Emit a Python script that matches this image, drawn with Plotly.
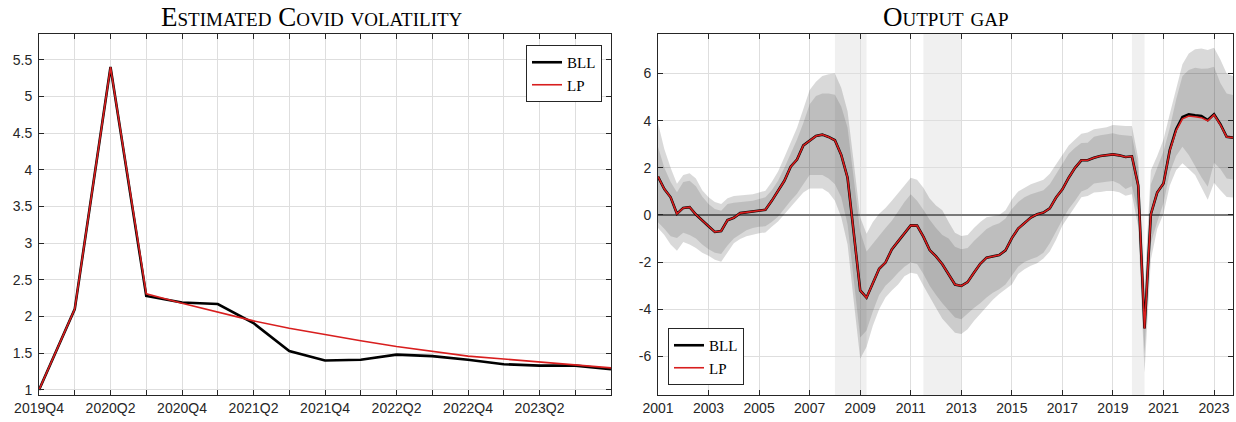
import plotly.graph_objects as go
import pandas as pd

# ---------------- Left panel: estimated Covid volatility ----------------
vol_quarters = ["2019Q4", "2020Q1", "2020Q2", "2020Q3", "2020Q4", "2021Q1", "2021Q2",
                "2021Q3", "2021Q4", "2022Q1", "2022Q2", "2022Q3", "2022Q4", "2023Q1",
                "2023Q2", "2023Q3", "2023Q4"]
vol_bll = [1.00, 2.10, 5.40, 2.28, 2.19, 2.17, 1.91, 1.53, 1.40, 1.41, 1.48, 1.46,
           1.41, 1.35, 1.33, 1.33, 1.28]
vol_lp = [1.00, 2.10, 5.40, 2.31, 2.18, 2.06, 1.94, 1.84, 1.75, 1.67, 1.59, 1.52,
          1.46, 1.42, 1.38, 1.34, 1.30]
vol_ticklabels = ["2019Q4", "", "2020Q2", "", "2020Q4", "", "2021Q2", "", "2021Q4", "",
                  "2022Q2", "", "2022Q4", "", "2023Q2", "", ""]

# ---------------- Right panel: output gap (2001Q1 - 2023Q4) ----------------
gap_bll = [1.63, 1.10, 0.75, 0.05,
           0.30, 0.33, 0.02, -0.25,
           -0.48, -0.72, -0.68, -0.22,
           -0.12, 0.08, 0.12, 0.17,
           0.20, 0.22, 0.60, 1.05,
           1.45, 2.05, 2.35, 2.95,
           3.17, 3.35, 3.41, 3.31,
           3.17, 2.55, 1.58, -0.85,
           -3.20, -3.51, -2.90, -2.28,
           -2.02, -1.46, -1.12, -0.78,
           -0.44, -0.45, -0.92, -1.49,
           -1.76, -2.09, -2.52, -2.95,
           -3.01, -2.85, -2.45, -2.07,
           -1.81, -1.74, -1.70, -1.50,
           -0.98, -0.58, -0.33, -0.11,
           0.03, 0.10, 0.28, 0.74,
           1.09, 1.58, 2.00, 2.32,
           2.32, 2.43, 2.50, 2.55,
           2.57, 2.53, 2.46, 2.49,
           1.25, -4.82, 0.03, 0.95,
           1.34, 2.76, 3.64, 4.16,
           4.27, 4.23, 4.20, 4.03,
           4.27, 3.85, 3.32, 3.28]
gap_lp = [1.63, 1.10, 0.75, 0.05,
          0.30, 0.33, 0.02, -0.25,
          -0.48, -0.72, -0.68, -0.22,
          -0.12, 0.08, 0.12, 0.17,
          0.20, 0.22, 0.60, 1.05,
          1.45, 2.05, 2.35, 2.95,
          3.17, 3.35, 3.41, 3.31,
          3.17, 2.55, 1.58, -0.85,
          -3.20, -3.51, -2.90, -2.28,
          -2.02, -1.46, -1.12, -0.78,
          -0.44, -0.45, -0.92, -1.49,
          -1.76, -2.09, -2.52, -2.95,
          -3.01, -2.85, -2.45, -2.07,
          -1.81, -1.74, -1.70, -1.50,
          -0.98, -0.58, -0.33, -0.11,
          0.03, 0.10, 0.28, 0.74,
          1.09, 1.58, 2.00, 2.32,
          2.32, 2.43, 2.50, 2.55,
          2.57, 2.53, 2.46, 2.49,
          1.25, -4.82, 0.03, 0.95,
          1.34, 2.74, 3.58, 4.08,
          4.20, 4.17, 4.13, 4.00,
          4.25, 3.83, 3.31, 3.28]
gap_u90 = [3.90, 2.80, 2.00, 1.32,
           1.70, 1.77, 1.55, 1.05,
           0.75, 0.55, 0.47, 0.71,
           0.80, 0.82, 0.85, 0.88,
           0.95, 1.03, 1.40, 1.85,
           2.45, 3.10, 3.70, 4.50,
           5.30, 5.65, 5.90, 5.97,
           6.00, 5.40, 4.40, 2.20,
           -0.10, -0.80, -0.30, 0.05,
           0.30, 0.60, 0.95, 1.25,
           1.58, 1.50, 1.15, 0.70,
           0.40, 0.20, -0.30, -0.75,
           -0.89, -0.85, -0.55, -0.30,
           -0.10, -0.05, 0.00, 0.20,
           0.66, 1.00, 1.15, 1.30,
           1.40, 1.50, 1.75, 2.15,
           2.60, 2.95, 3.20, 3.45,
           3.50, 3.64, 3.68, 3.72,
           3.82, 3.79, 3.78, 3.78,
           2.40, -3.00, 1.90, 2.50,
           3.20, 4.30, 5.40, 6.40,
           6.85, 7.03, 7.06, 7.00,
           7.10, 6.60, 6.00, 5.90]
gap_u68 = [2.90, 2.00, 1.40, 0.96,
           1.40, 1.45, 1.22, 0.78,
           0.47, 0.25, 0.18, 0.47,
           0.52, 0.54, 0.58, 0.60,
           0.68, 0.75, 1.05, 1.45,
           2.00, 2.60, 3.20, 3.90,
           4.70, 5.05, 5.15, 5.15,
           5.10, 4.60, 3.70, 1.50,
           -0.70, -1.55, -1.20, -0.85,
           -0.55, -0.25, 0.15, 0.55,
           0.88, 0.60, 0.22, -0.20,
           -0.55, -0.85, -1.00, -1.35,
           -1.46, -1.40, -1.10, -0.85,
           -0.60, -0.45, -0.35, -0.15,
           0.25, 0.55, 0.75, 0.88,
           0.97, 1.05, 1.30, 1.75,
           2.20, 2.60, 2.85, 3.05,
           3.07, 3.32, 3.38, 3.43,
           3.47, 3.40, 3.36, 3.35,
           2.00, -3.60, 1.30, 2.00,
           2.70, 3.70, 4.90, 5.90,
           6.15, 6.25, 6.20, 6.22,
           6.29, 5.60, 5.15, 5.09]
gap_l68 = [-0.31, -0.58, -0.90, -0.98,
           -0.75, -0.85, -1.00, -1.25,
           -1.45, -1.60, -1.66, -1.30,
           -1.00, -0.81, -0.65, -0.55,
           -0.50, -0.48, -0.30, -0.08,
           0.25, 0.60, 0.90, 1.30,
           1.70, 1.70, 1.70, 1.55,
           1.30, 0.75, -0.40, -2.90,
           -5.20, -4.90, -4.10, -3.40,
           -3.00, -2.75, -2.45, -2.20,
           -2.02, -2.08, -2.50, -3.00,
           -3.40, -3.75, -4.05, -4.35,
           -4.43, -4.20, -3.95, -3.75,
           -3.50, -3.30, -3.15, -2.95,
           -2.55, -2.20, -2.00, -1.88,
           -1.78, -1.60, -1.20, -0.70,
           -0.20, 0.25, 0.60, 1.00,
           1.10, 1.34, 1.37, 1.41,
           1.44, 1.32, 1.10, 1.22,
           0.10, -5.90, -1.20, -0.30,
           0.50, 1.80, 2.50, 2.90,
           2.55, 2.10, 1.60, 1.20,
           2.22, 1.95, 1.55, 1.51]
gap_l90 = [-0.55, -0.85, -1.25, -1.52,
           -1.15, -1.25, -1.40, -1.60,
           -1.73, -1.90, -1.99, -1.59,
           -1.20, -1.02, -0.90, -0.83,
           -0.78, -0.74, -0.50, -0.28,
           0.05, 0.35, 0.65, 0.95,
           1.12, 1.12, 1.12, 0.95,
           0.60, -0.10, -1.25, -3.70,
           -6.10, -5.60, -4.70, -4.00,
           -3.50, -3.20, -2.95, -2.60,
           -2.45, -2.50, -3.00, -3.50,
           -3.95, -4.40, -4.70, -5.00,
           -5.05, -4.85, -4.50, -4.20,
           -3.90, -3.60, -3.35, -3.15,
           -2.95, -2.50, -2.30, -2.16,
           -2.05, -1.85, -1.55, -1.05,
           -0.45, -0.05, 0.35, 0.75,
           0.80, 0.95, 0.98, 1.02,
           1.02, 0.96, 0.82, 0.88,
           -0.50, -6.70, -1.90, -0.60,
           0.05, 1.25, 1.90, 2.20,
           1.95, 1.70, 1.15, 0.65,
           1.37, 1.05, 0.76, 0.74]
rec_start = [2008.0, 2011.5, 2019.75]
rec_end = [2009.25, 2013.0, 2020.25]
gap_tickvals = [2001, 2003, 2005, 2007, 2009, 2011, 2013, 2015, 2017, 2019, 2021, 2023]
gap_yticks = [-6, -4, -2, 0, 2, 4, 6]
gap_yticklabels = ["-6", "-4", "-2", "0", "2", "4", "6"]

periods = pd.period_range("2001Q1", "2023Q4", freq="Q")
gap_t = [p.year + (p.quarter - 1) / 4 for p in periods]

W, H = 1236, 422
AX = "#262626"
GRID = "#dedede"
TICKFONT = dict(family="Liberation Sans, Arial, sans-serif", size=14, color=AX)
SERIF = "Liberation Serif, Times New Roman, serif"

fig = go.Figure()

# left panel lines
fig.add_trace(go.Scatter(x=vol_quarters, y=vol_bll, mode="lines", name="BLL",
                         line=dict(color="black", width=2.6), xaxis="x", yaxis="y",
                         legend="legend"))
fig.add_trace(go.Scatter(x=vol_quarters, y=vol_lp, mode="lines", name="LP",
                         line=dict(color="#d81e1e", width=1.6), xaxis="x", yaxis="y",
                         legend="legend"))

# right panel bands
fig.add_trace(go.Scatter(x=gap_t + gap_t[::-1], y=gap_u90 + gap_l90[::-1], mode="lines",
                         fill="toself", fillcolor="rgba(0,0,0,0.15)", line=dict(width=0),
                         hoverinfo="skip", showlegend=False, xaxis="x2", yaxis="y2"))
fig.add_trace(go.Scatter(x=gap_t + gap_t[::-1], y=gap_u68 + gap_l68[::-1], mode="lines",
                         fill="toself", fillcolor="rgba(0,0,0,0.12)", line=dict(width=0),
                         hoverinfo="skip", showlegend=False, xaxis="x2", yaxis="y2"))
fig.add_trace(go.Scatter(x=gap_t, y=gap_bll, mode="lines", name="BLL",
                         line=dict(color="black", width=2.6), xaxis="x2", yaxis="y2",
                         legend="legend2"))
fig.add_trace(go.Scatter(x=gap_t, y=gap_lp, mode="lines", name="LP",
                         line=dict(color="#d81e1e", width=1.6), xaxis="x2", yaxis="y2",
                         legend="legend2"))

for s, e in zip(rec_start, rec_end):
    fig.add_shape(type="rect", xref="x2", yref="y2 domain", x0=s, x1=e, y0=0, y1=1,
                  fillcolor="#f0f0f0", line=dict(width=0), layer="below")

common_axis = dict(showline=True, linecolor=AX, linewidth=1, mirror="allticks",
                   ticks="inside", ticklen=5, tickcolor=AX, showgrid=True,
                   gridcolor=GRID, gridwidth=1, tickfont=TICKFONT, automargin=False,
                   zeroline=False)

y_dom = [27 / H, 388 / H]
legend_common = dict(bgcolor="white", bordercolor=AX, borderwidth=1,
                     font=dict(family=SERIF, size=15, color="black"), itemwidth=30,
                     tracegroupgap=0)
fig.update_layout(
    width=W, height=H, margin=dict(l=0, r=0, t=0, b=0),
    paper_bgcolor="white", plot_bgcolor="white",
    xaxis=dict(domain=[39 / W, 611 / W], anchor="y", type="category",
               range=[0, len(vol_quarters) - 1], tickmode="array",
               tickvals=vol_quarters, ticktext=vol_ticklabels, **common_axis),
    yaxis=dict(domain=y_dom, anchor="x", range=[0.93, 5.85], tick0=1, dtick=0.5,
               ticklabelstandoff=3, **common_axis),
    xaxis2=dict(domain=[658 / W, 1233 / W], anchor="y2", range=[2001, 2023.75],
                tickmode="array", tickvals=gap_tickvals, **common_axis),
    yaxis2=dict(domain=y_dom, anchor="x2", range=[-7.64, 7.68], tickmode="array",
                tickvals=gap_yticks, ticktext=gap_yticklabels, ticklabelstandoff=3,
                **{**common_axis, "zeroline": True}, zerolinecolor="#7a7a7a",
                zerolinewidth=1.5),
    legend=dict(x=602 / W, xanchor="right", y=(H - 45) / H, yanchor="top",
                **legend_common),
    legend2=dict(x=668 / W, xanchor="left", y=(H - 385) / H, yanchor="bottom",
                 **legend_common),
    showlegend=True,
)

title_font = dict(family=SERIF, size=27, color="black", variant="small-caps")
fig.add_annotation(text="Estimated Covid volatility", xref="paper", yref="paper",
                   x=312 / W, y=(H - 17) / H, xanchor="center", yanchor="middle",
                   showarrow=False, font=title_font)
fig.add_annotation(text="Output gap", xref="x2 domain", yref="paper",
                   x=0.5, y=(H - 17) / H, xanchor="center", yanchor="middle",
                   showarrow=False, font=title_font)

fig.write_html("out.html")
